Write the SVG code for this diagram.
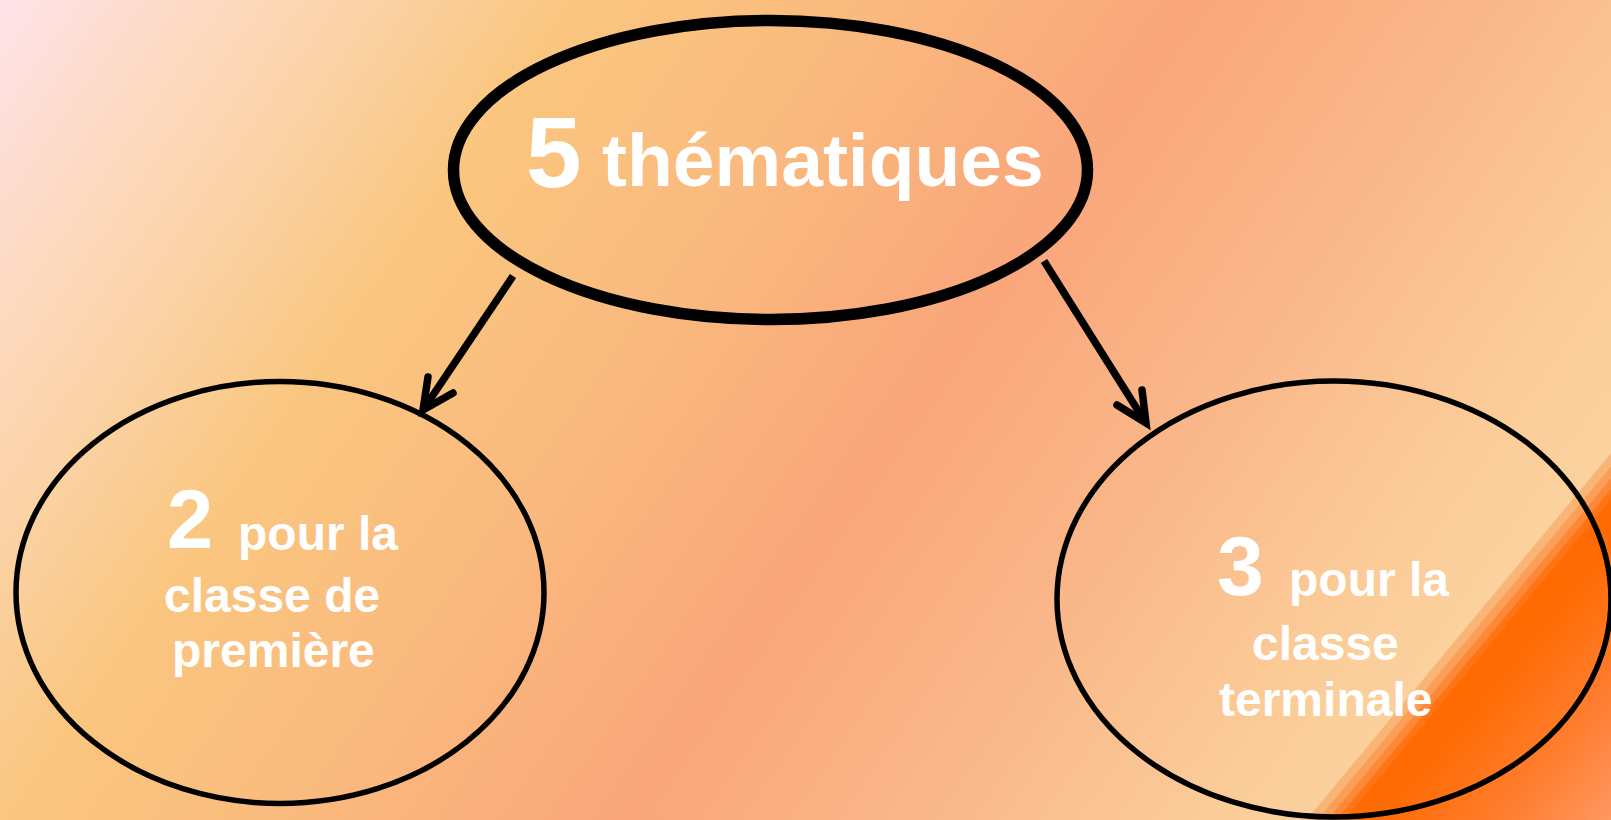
<svg xmlns="http://www.w3.org/2000/svg" width="1611" height="820" viewBox="0 0 1611 820">
  <defs>
    <linearGradient id="bg" gradientUnits="userSpaceOnUse" x1="0" y1="0" x2="1300" y2="900">
      <stop offset="0" stop-color="#FFE3EA"/>
      <stop offset="0.1" stop-color="#FDDAC4"/>
      <stop offset="0.2" stop-color="#FBD2A4"/>
      <stop offset="0.3" stop-color="#FAC67F"/>
      <stop offset="0.45" stop-color="#FABA7E"/>
      <stop offset="0.62" stop-color="#F9A67A"/>
      <stop offset="0.78" stop-color="#FAB88A"/>
      <stop offset="0.92" stop-color="#FBCC98"/>
      <stop offset="1" stop-color="#FBD29E"/>
    </linearGradient>
    <linearGradient id="corner" gradientUnits="userSpaceOnUse" x1="1500" y1="620" x2="1700" y2="788">
      <stop offset="0" stop-color="#FF6A00"/>
      <stop offset="0.15" stop-color="#FF6C05"/>
      <stop offset="0.5" stop-color="#FF7E30"/>
      <stop offset="0.85" stop-color="#FF9A66"/>
      <stop offset="1" stop-color="#FFA070"/>
    </linearGradient>
    <style>
      .node { fill: none; stroke: #000; }
      .big { stroke-width: 11.5; }
      .small { stroke-width: 5.5; }
      .conn { fill: none; stroke: #000; stroke-width: 7.5; }
      .head { fill: none; stroke: #000; stroke-width: 7.5; stroke-linecap: round; stroke-linejoin: miter; }
      text { font-family: "Liberation Sans", Arial, sans-serif; font-weight: bold; fill: #FFFFFF; }
    </style>
  </defs>

  <!-- background -->
  <rect x="0" y="0" width="1611" height="820" fill="url(#bg)"/>
  <!-- bottom-right stripes -->
  <polygon points="1622,440 1640,440 1640,830 1298,830" fill="#F9B576"/>
  <polygon points="1633,440 1650,440 1650,830 1309,830" fill="#FA9E58"/>
  <polygon points="1643,440 1660,440 1660,830 1319,830" fill="#FC8838"/>
  <polygon points="1652,440 1670,440 1670,830 1328,830" fill="#FF7415"/>
  <polygon points="1660,440 1700,440 1700,830 1336,830" fill="url(#corner)"/>

  <g id="node-top">
    <ellipse class="node big" cx="770.5" cy="170" rx="317" ry="149.5"/>
    <text y="187"><tspan x="526" font-size="100">5</tspan><tspan x="602" y="186" font-size="75">thématiques</tspan></text>
  </g>

  <g id="node-left">
    <ellipse class="node small" cx="280" cy="592.5" rx="264" ry="211"/>
    <text y="548"><tspan x="167" font-size="83">2</tspan><tspan x="238" y="550" font-size="48">pour la</tspan></text>
    <text x="164" y="612" font-size="48">classe de</text>
    <text x="172" y="667" font-size="48">première</text>
  </g>

  <g id="node-right">
    <ellipse class="node small" cx="1334" cy="599" rx="277" ry="218"/>
    <text y="595"><tspan x="1217" font-size="84">3</tspan><tspan x="1289" y="596" font-size="48">pour la</tspan></text>
    <text x="1252" y="660" font-size="48">classe</text>
    <text x="1219" y="716" font-size="48">terminale</text>
  </g>

  <g id="connectors">
    <line class="conn" x1="513" y1="276" x2="425" y2="407"/>
    <polyline class="head" points="428,377 423,410 453,393"/>
    <line class="conn" x1="1044" y1="261" x2="1144" y2="420"/>
    <polyline class="head" points="1142,390 1146,423 1117,405"/>
  </g>
</svg>
